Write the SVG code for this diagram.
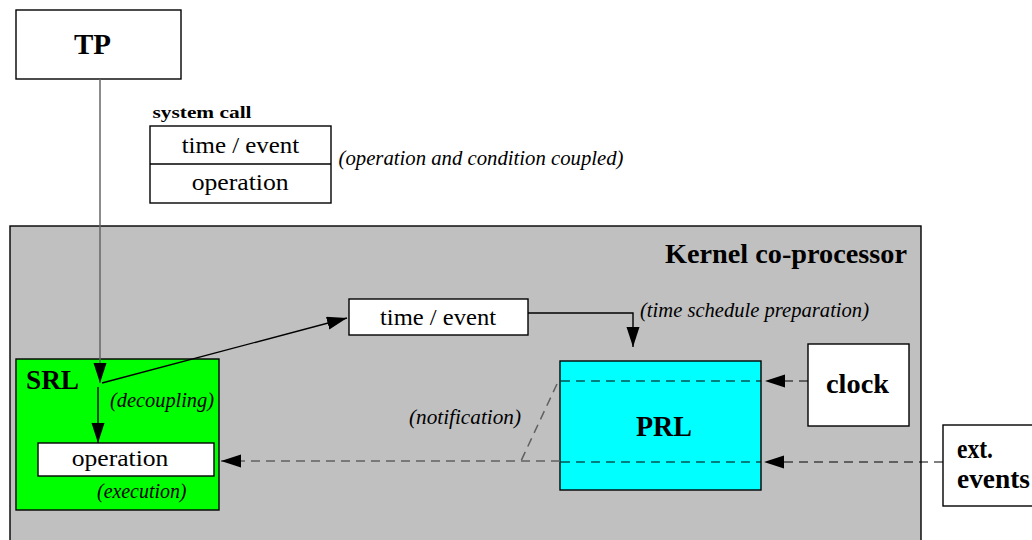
<svg xmlns="http://www.w3.org/2000/svg" width="1032" height="540" viewBox="0 0 1032 540">
<style>
.box{stroke:#000;stroke-width:1.4}
.w{fill:#fff}
.t{font-family:"Liberation Serif","Times New Roman",serif;fill:#000}
.b{font-weight:bold}
.i{font-style:italic}
.ln{fill:none;stroke:#000;stroke-width:1.4}
.gl{fill:none;stroke:#666;stroke-width:1.5}
.d{fill:none;stroke:#000;stroke-width:1.2;stroke-dasharray:9 6}
.dg{fill:none;stroke:#606060;stroke-width:1.5;stroke-dasharray:9 6}
</style>
<defs>
<marker id="ah" markerUnits="userSpaceOnUse" markerWidth="22" markerHeight="14" refX="20" refY="6.5" orient="auto">
<path d="M0,0 L20,6.5 L0,13 Z" fill="#000"/>
</marker>
</defs>
<rect width="1032" height="540" fill="#fff"/>

<g id="kernel">
<rect class="box" x="10" y="226" width="911" height="330" fill="#c0c0c0"/>
<text class="t b" x="665" y="263" font-size="27" textLength="242" lengthAdjust="spacingAndGlyphs">Kernel co-processor</text>
</g>

<g id="tp">
<rect class="box w" x="16" y="10" width="165" height="69"/>
<text class="t b" x="74" y="54" font-size="29" textLength="37" lengthAdjust="spacingAndGlyphs">TP</text>
</g>

<g id="syscall">
<text class="t b" x="152.5" y="117.5" font-size="17.5" textLength="99" lengthAdjust="spacingAndGlyphs">system call</text>
<rect class="box w" x="150" y="126" width="181" height="77"/>
<line class="ln" x1="150" y1="164" x2="331" y2="164"/>
<text class="t" x="181.7" y="153" font-size="24" textLength="117.5" lengthAdjust="spacingAndGlyphs">time / event</text>
<text class="t" x="191.7" y="190" font-size="24" textLength="97" lengthAdjust="spacingAndGlyphs">operation</text>
<text class="t i" x="338.5" y="165" font-size="21" textLength="285" lengthAdjust="spacingAndGlyphs">(operation and condition coupled)</text>
</g>

<g id="timeevent">
<rect class="box w" x="349" y="299" width="179" height="36"/>
<text class="t" x="380" y="325" font-size="24" textLength="116" lengthAdjust="spacingAndGlyphs">time / event</text>
</g>

<g id="srl">
<rect class="box" x="16" y="359" width="203" height="151" fill="#00ff00"/>
<text class="t b" x="26" y="389" font-size="27" textLength="53" lengthAdjust="spacingAndGlyphs">SRL</text>
</g>

<g id="operation">
<rect class="box w" x="38" y="443" width="176" height="33"/>
<text class="t" x="71.7" y="466" font-size="24" textLength="96.7" lengthAdjust="spacingAndGlyphs">operation</text>
</g>

<g id="prl">
<rect class="box" x="560" y="361" width="201" height="129" fill="#00ffff"/>
<text class="t b" x="636" y="436" font-size="29" textLength="56" lengthAdjust="spacingAndGlyphs">PRL</text>
</g>

<g id="clock">
<rect class="box w" x="808" y="344" width="101" height="82"/>
<text class="t b" x="826" y="393" font-size="27" textLength="63" lengthAdjust="spacingAndGlyphs">clock</text>
</g>

<g id="ext">
<rect class="box w" x="943" y="425" width="100" height="81"/>
<text class="t b" x="957" y="458" font-size="27" textLength="36" lengthAdjust="spacingAndGlyphs">ext.</text>
<text class="t b" x="957" y="488" font-size="27" textLength="73" lengthAdjust="spacingAndGlyphs">events</text>
</g>

<g id="connectors">
<line class="gl" x1="100" y1="79" x2="100" y2="383" marker-end="url(#ah)"/>
<line class="ln" x1="102" y1="383" x2="347" y2="318" marker-end="url(#ah)"/>
<line class="ln" x1="98" y1="387" x2="98" y2="443" marker-end="url(#ah)"/>
<polyline class="ln" points="528,313 633,313 633,347" marker-end="url(#ah)"/>
<line class="d" x1="808" y1="381" x2="765" y2="381" marker-end="url(#ah)"/>
<line class="d" x1="943" y1="462" x2="764" y2="462" marker-end="url(#ah)"/>
<line class="d" x1="561" y1="381" x2="761" y2="381"/>
<line class="d" x1="561" y1="462" x2="761" y2="462"/>
<line class="dg" x1="557" y1="384" x2="521" y2="461"/>
<line class="dg" x1="560" y1="461" x2="221" y2="461" marker-end="url(#ah)"/>
<text class="t i" x="110" y="407" font-size="21" textLength="104" lengthAdjust="spacingAndGlyphs">(decoupling)</text>
<text class="t i" x="97" y="498" font-size="21" textLength="89.5" lengthAdjust="spacingAndGlyphs">(execution)</text>
<text class="t i" x="409" y="423.5" font-size="21" textLength="112" lengthAdjust="spacingAndGlyphs">(notification)</text>
<text class="t i" x="640" y="317" font-size="21" textLength="229" lengthAdjust="spacingAndGlyphs">(time schedule preparation)</text>
</g>
</svg>
